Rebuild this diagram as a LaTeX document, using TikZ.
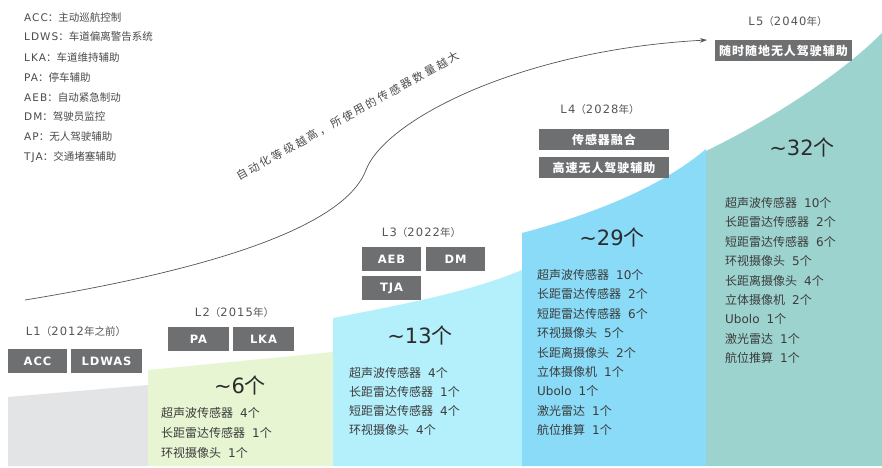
\documentclass[tikz,border=0pt]{standalone}
\usepackage{fontspec}
\setmainfont{DejaVu Sans}
\newfontfamily\latw{DejaVu Sans}[LetterSpace=10]
\newfontfamily\latb{DejaVu Sans}[LetterSpace=8]
\newfontfamily\zhfont{Noto Sans CJK SC}
\newfontfamily\zhwide{Noto Sans CJK SC}[LetterSpace=22]
\newfontfamily\zhboxfont{Noto Sans CJK SC}[LetterSpace=8]
\newcommand\zh[1]{{\zhfont #1}}
\newcommand\zhs[1]{{\zhfont\fontsize{10.5}{12}\selectfont #1}}
\newcommand\sensor[2]{#1\hspace{7pt}#2\zh{个}}
\usetikzlibrary{arrows.meta}
\definecolor{regGray}{HTML}{E3E4E6}
\definecolor{regGreen}{HTML}{E7F5D3}
\definecolor{regCyan}{HTML}{B4F0FC}
\definecolor{regBlue}{HTML}{89DBF8}
\definecolor{regTeal}{HTML}{9DD3CF}
\definecolor{boxc}{HTML}{6E6F71}
\definecolor{legc}{HTML}{4A4A4A}
\definecolor{lvlc}{HTML}{555555}
\definecolor{numc}{HTML}{2B2B2B}
\definecolor{senc}{HTML}{3C3C3C}
\definecolor{curvec}{HTML}{555555}
\begin{document}
\begin{tikzpicture}[x=1pt,y=-1pt,
  legend/.style={anchor=west, inner sep=0, text=legc, font=\latw\fontsize{10.5}{12}\selectfont},
  lvl/.style={inner sep=0, text=lvlc, font=\latw\fontsize{11.5}{13}\selectfont},
  tagbox/.style={fill=boxc, text=white, inner sep=0, minimum height=24pt, minimum width=59pt, font=\latb\bfseries\fontsize{11.5}{13}\selectfont},
  zhtag/.style={fill=boxc, text=white, inner sep=0, minimum height=21pt, minimum width=130pt, font=\zhboxfont\bfseries\fontsize{12}{14}\selectfont},
  bignum/.style={inner sep=0, text=numc, font=\fontsize{21}{24}\selectfont},
  sens/.style={anchor=west, inner sep=0, text=senc, font=\fontsize{12}{14}\selectfont},
]
\fill[white] (0,0) rectangle (882,467);

% stepped regions
\fill[regGray] (8,397) -- (148,385) -- (148,466) -- (8,466) -- cycle;
\fill[regGreen] (148,370) -- (333,352) -- (333,466) -- (148,466) -- cycle;
\fill[regCyan] (333,318) .. controls (400,305) and (470,292) .. (522,270) -- (522,466) -- (333,466) -- cycle;
\fill[regBlue] (522,233) .. controls (590,215) and (660,188) .. (706,149) -- (706,466) -- (522,466) -- cycle;
\fill[regTeal] (706,151) .. controls (770,120) and (840,75) .. (882,33) -- (882,466) -- (706,466) -- cycle;

% legend
\node[legend] (lg1) at (24,17) {ACC\zh{：主动巡航控制}};
\node[legend] (lg2) at (24,37) {LDWS\zh{：车道偏离警告系统}};
\node[legend] (lg3) at (24,57) {LKA\zh{：车道维持辅助}};
\node[legend] (lg4) at (24,77) {PA\zh{：停车辅助}};
\node[legend] (lg5) at (24,97) {AEB\zh{：自动紧急制动}};
\node[legend] (lg6) at (24,117) {DM\zh{：驾驶员监控}};
\node[legend] (lg7) at (24,137) {AP\zh{：无人驾驶辅助}};
\node[legend] (lg8) at (24,157) {TJA\zh{：交通堵塞辅助}};

% trend curve
\coordinate (cs) at (25,300);
\coordinate (cm) at (366,170);
\coordinate (ce) at (707,40);
\draw[curvec, line width=0.7pt, -{Stealth[length=7pt,width=4.5pt]}]
  (cs) .. controls (220,268) and (345,225) .. (cm)
       .. controls (385,120) and (520,50) .. (ce);
\node[rotate=29, inner sep=0, text=legc, font=\zhwide\fontsize{11}{13}\selectfont] (ctext) at (348,116) {自动化等级越高，所使用的传感器数量越大};

% L1
\node[lvl] (l1) at (76,331) {L1\zhs{（}2012\zhs{年之前）}};
\node[tagbox] (acc) at (37.5,361) {ACC};
\node[tagbox, minimum width=71pt] (ldwas) at (106.5,361) {LDWAS};

% L2
\node[lvl] (l2) at (234.5,312) {L2\zhs{（}2015\zhs{年）}};
\node[tagbox, minimum width=61pt] (pa) at (198.5,339) {PA};
\node[tagbox, minimum width=61pt] (lka) at (263.5,339) {LKA};
\node[bignum] (n2) at (240,385) {\textasciitilde6\zh{个}};
\foreach \a/\b [count=\i] in {\zh{超声波传感器}/4, \zh{长距雷达传感器}/1, \zh{环视摄像头}/1}
  \node[sens] (sa\i) at (161,{413+20*(\i-1)}) {\sensor{\a}{\b}};

% L3
\node[lvl] (l3) at (421.5,233) {L3\zhs{（}2022\zhs{年）}};
\node[tagbox] (aeb) at (391.5,259) {AEB};
\node[tagbox] (dm) at (455.5,259) {DM};
\node[tagbox] (tja) at (391.5,288) {TJA};
\node[bignum] (n3) at (420,335) {\textasciitilde13\zh{个}};
\foreach \a/\b [count=\i] in {\zh{超声波传感器}/4, \zh{长距雷达传感器}/1, \zh{短距雷达传感器}/4, \zh{环视摄像头}/4}
  \node[sens] (sb\i) at (349,{373+19*(\i-1)}) {\sensor{\a}{\b}};

% L4
\node[lvl] (l4) at (600,110) {L4\zhs{（}2028\zhs{年）}};
\node[zhtag] (fusion) at (604,139.5) {传感器融合};
\node[zhtag] (hwy) at (604,167.5) {高速无人驾驶辅助};
\node[bignum] (n4) at (612,237) {\textasciitilde29\zh{个}};
\foreach \a/\b [count=\i] in {\zh{超声波传感器}/10, \zh{长距雷达传感器}/2, \zh{短距雷达传感器}/6, \zh{环视摄像头}/5, \zh{长距离摄像头}/2, \zh{立体摄像机}/1, Ubolo/1, \zh{激光雷达}/1, \zh{航位推算}/1}
  \node[sens] (sc\i) at (537,{275+19.4*(\i-1)}) {\sensor{\a}{\b}};

% L5
\node[lvl] (l5) at (788,22) {L5\zhs{（}2040\zhs{年）}};
\node[zhtag, minimum width=137pt] (anyw) at (783.5,50.5) {随时随地无人驾驶辅助};
\node[bignum] (n5) at (802,147) {\textasciitilde32\zh{个}};
\foreach \a/\b [count=\i] in {\zh{超声波传感器}/10, \zh{长距雷达传感器}/2, \zh{短距雷达传感器}/6, \zh{环视摄像头}/5, \zh{长距离摄像头}/4, \zh{立体摄像机}/2, Ubolo/1, \zh{激光雷达}/1, \zh{航位推算}/1}
  \node[sens] (sd\i) at (725,{203+19.4*(\i-1)}) {\sensor{\a}{\b}};
\end{tikzpicture}
\end{document}
